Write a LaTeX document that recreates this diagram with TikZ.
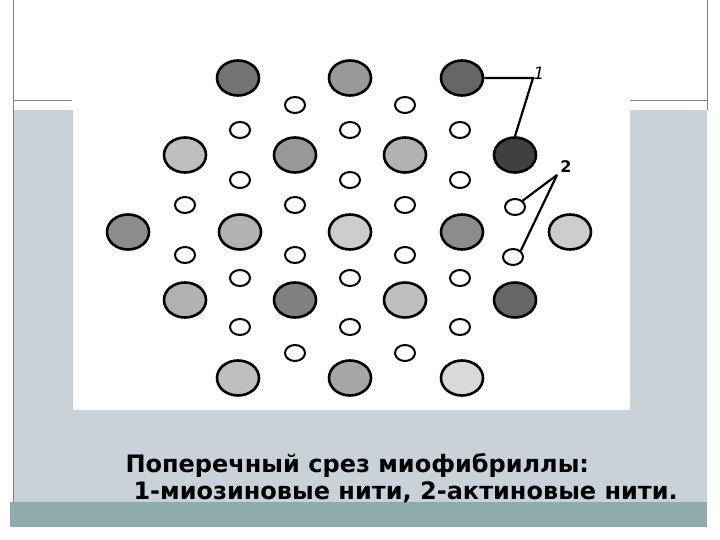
\documentclass[tikz,border=0pt]{standalone}
\usepackage{fontspec}
\setmainfont{DejaVu Sans}
\usetikzlibrary{shapes.geometric}
\begin{document}
\begin{tikzpicture}[x=1pt,y=-1pt,
  big/.style={ellipse,draw=black,line width=2.6pt,minimum width=42pt,minimum height=35pt,inner sep=0pt},
  small/.style={ellipse,draw=black,line width=2pt,fill=white,minimum width=20pt,minimum height=16pt,inner sep=0pt},
  lead/.style={line width=2.2pt}]
\path[use as bounding box] (0,0) rectangle (720,540);
\fill[white] (0,0) rectangle (720,540);
\definecolor{panel}{HTML}{C8D2D8}
\definecolor{teal}{HTML}{8FABAB}
\fill[panel] (13,110) rectangle (707,502);
\fill[teal] (10,502) rectangle (707,527);
\draw[gray,line width=0.8pt] (13,0) -- (13,502);
\draw[gray,line width=0.8pt] (13,100) -- (72,100);
\draw[gray,line width=0.8pt] (707,0) -- (707,110);
\draw[gray,line width=0.8pt] (630,100) -- (707,100);
\fill[white] (73,55) rectangle (630,410);
% big circles
\node[big,fill=black!55] (m1) at (238,78) {};
\node[big,fill=black!40] (m2) at (350,78) {};
\node[big,fill=black!60] (m3) at (462,78) {};
\node[big,fill=black!25] (m4) at (185,155) {};
\node[big,fill=black!40] (m5) at (295,155) {};
\node[big,fill=black!30] (m6) at (405,155) {};
\node[big,fill=black!75] (m7) at (515,155) {};
\node[big,fill=black!45] (m8) at (128,232) {};
\node[big,fill=black!30] (m9) at (240,232) {};
\node[big,fill=black!20] (m10) at (350,232) {};
\node[big,fill=black!45] (m11) at (462,232) {};
\node[big,fill=black!20] (m12) at (570,232) {};
\node[big,fill=black!30] (m13) at (185,300) {};
\node[big,fill=black!50] (m14) at (295,300) {};
\node[big,fill=black!25] (m15) at (405,300) {};
\node[big,fill=black!60] (m16) at (515,300) {};
\node[big,fill=black!25] (m17) at (238,378) {};
\node[big,fill=black!35] (m18) at (350,378) {};
\node[big,fill=black!15] (m19) at (462,378) {};
% small circles
\foreach \n/\x/\y in {a1/295/105,a2/405/105,a3/240/130,a4/350/130,a5/460/130,
  a6/240/180,a7/350/180,a8/460/180,a9/185/205,a10/295/205,a11/405/205,a12/515/207,
  a13/185/255,a14/295/255,a15/405/255,a16/513/257,a17/240/278,a18/350/278,a19/460/278,
  a20/240/327,a21/350/327,a22/460/327,a23/295/353,a24/405/353}
  \node[small] (\n) at (\x,\y) {};
% labels
\node[font=\itshape\fontsize{17}{17}\selectfont] (l1) at (539,73) {1};
\node[font=\bfseries\fontsize{16}{16}\selectfont] (l2) at (566,167) {2};
\coordinate (j1) at (533,78);
\coordinate (j2) at (557,175);
\draw[lead] (m3.east) -- (j1) -- (m7.north);
\draw[lead] (j2) -- (a12.north east);
\draw[lead] (j2) -- (a16.north east);
% caption
\node[anchor=base west,font=\bfseries\fontsize{24}{24}\selectfont] (t1) at (122,472) {Поперечный срез миофибриллы:};
\node[anchor=base west,font=\bfseries\fontsize{24}{24}\selectfont] (t2) at (130,499) {1-миозиновые нити, 2-актиновые нити.};
\end{tikzpicture}
\end{document}
